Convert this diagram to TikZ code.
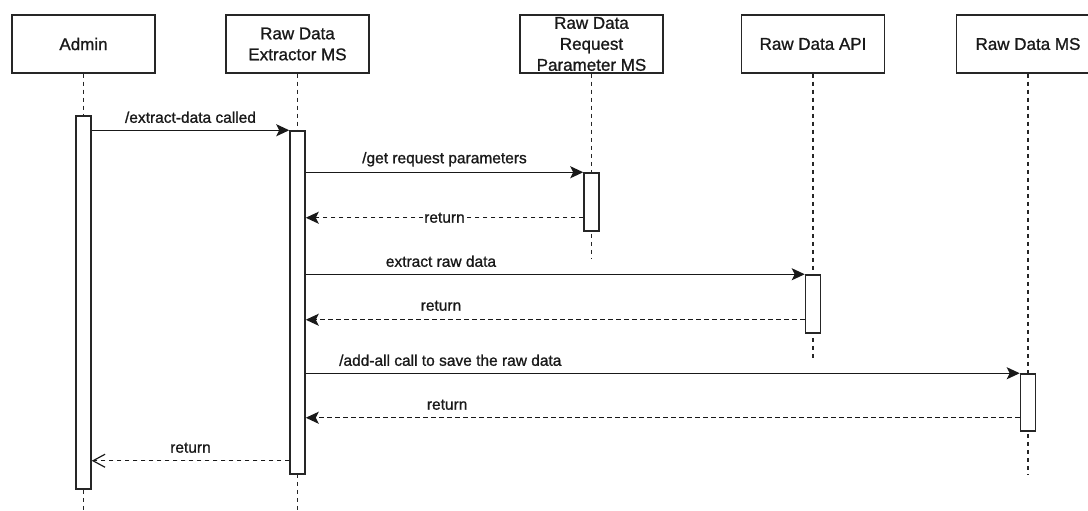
\documentclass[tikz,border=0pt]{standalone}
\usepackage{fontspec}
\setmainfont{Liberation Sans}[FakeBold=1.0]
\usetikzlibrary{arrows.meta}
\begin{document}
\begin{tikzpicture}[x=1pt,y=-1pt,
  actor/.style={draw=black!85, line width=1.5pt, minimum width=143pt, minimum height=58pt,
    inner sep=0pt, align=center, text=black!90, font=\fontsize{17}{21}\selectfont},
  bar/.style={draw=black!85, fill=white, line width=1.5pt, minimum width=15pt, inner sep=0pt},
  life/.style={draw=black!85, line width=1.3pt, dash pattern=on 4pt off 4pt},
  call/.style={draw=black!90, line width=1.4pt, -{Stealth[length=13pt,width=12pt,inset=3pt]}},
  reply/.style={draw=black!90, line width=1.3pt, dash pattern=on 4.5pt off 3.5pt,
    -{Stealth[length=13pt,width=12pt,inset=3pt]}},
  replyopen/.style={draw=black!90, line width=1.3pt, dash pattern=on 4.5pt off 3.5pt,
    -{Straight Barb[length=12pt,width=13pt,line width=1.2pt]}},
  lbl/.style={font=\fontsize{15.5}{18}\selectfont, text=black!90, inner sep=1pt},
]
\useasboundingbox (0,0) rectangle (1088,511);

% participants
\node[actor] (admin) at (83.5,44) {Admin};
\node[actor] (extr)  at (297.5,44) {Raw Data\\Extractor MS};
\node[actor] (reqp)  at (591.5,44) {Raw Data\\Request\\Parameter MS};
\node[actor] (api)   at (813,44) {Raw Data API};
\node[actor] (rms)   at (1028,44) {Raw Data MS};

% lifeline ends
\coordinate (adminEnd) at (83.5,511);
\coordinate (extrEnd)  at (297.5,511);
\coordinate (reqpEnd)  at (591.5,259);
\coordinate (apiEnd)   at (813,360);
\coordinate (rmsEnd)   at (1028,474);

\draw[life] (admin.south) -- (adminEnd);
\draw[life] (extr.south)  -- (extrEnd);
\draw[life] (reqp.south)  -- (reqpEnd);
\draw[life] (api.south)   -- (apiEnd);
\draw[life] (rms.south)   -- (rmsEnd);

% activation bars
\node[bar, minimum height=373pt] (aA) at (83.5,302.5) {};
\node[bar, minimum height=343pt] (aE) at (297.5,302.5) {};
\node[bar, minimum height=58pt]  (aR) at (591.5,202) {};
\node[bar, minimum height=58pt]  (aP) at (813,304) {};
\node[bar, minimum height=57pt]  (aM) at (1028,402.5) {};

% return points on the callee bars
\coordinate (r1) at ([yshift=14pt]aR.south west);
\coordinate (r2) at ([yshift=14pt]aP.south west);
\coordinate (r3) at ([yshift=14pt]aM.south west);
\coordinate (r4) at ([yshift=14pt]aE.south west);

% messages
\draw[call] (aA.east |- aE.north) -- node[lbl, midway, yshift=13pt] {/extract-data called} (aE.north west);
\draw[call] (aE.east |- aR.north) -- node[lbl, midway, yshift=13pt] {/get request parameters} (aR.north west);
\draw[reply] (r1) -- node[lbl, fill=white, midway] {return} (aE.east |- r1);
\draw[call] (aE.east |- aP.north) -- node[lbl, pos=0.271, yshift=13pt] {extract raw data} (aP.north west);
\draw[reply] (r2) -- node[lbl, pos=0.729, yshift=14pt] {return} (aE.east |- r2);
\draw[call] (aE.east |- aM.north) -- node[lbl, pos=0.2025, yshift=13pt] {/add-all call to save the raw data} (aM.north west);
\draw[reply] (r3) -- node[lbl, pos=0.802, yshift=13pt] {return} (aE.east |- r3);
\draw[replyopen] (r4) -- node[lbl, midway, yshift=13pt] {return} (aA.east |- r4);
\end{tikzpicture}
\end{document}
